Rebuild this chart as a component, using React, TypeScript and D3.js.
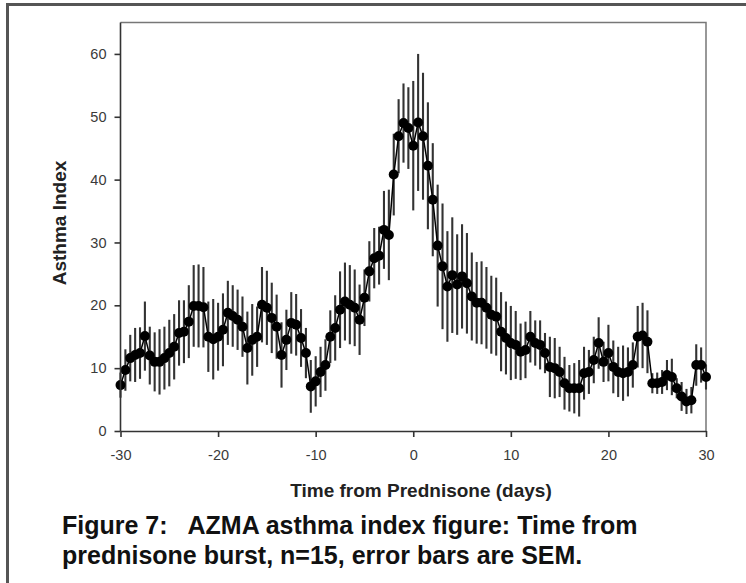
import React, { useEffect, useRef } from "react";
import * as d3 from "d3";

const days = [
  -30, -29.5, -29, -28.5, -28, -27.5, -27, -26.5, -26, -25.5,
  -25, -24.5, -24, -23.5, -23, -22.5, -22, -21.5, -21, -20.5,
  -20, -19.5, -19, -18.5, -18, -17.5, -17, -16.5, -16, -15.5,
  -15, -14.5, -14, -13.5, -13, -12.5, -12, -11.5, -11, -10.5,
  -10, -9.5, -9, -8.5, -8, -7.5, -7, -6.5, -6, -5.5,
  -5, -4.5, -4, -3.5, -3, -2.5, -2, -1.5, -1, -0.5,
  0, 0.5, 1, 1.5, 2, 2.5, 3, 3.5, 4, 4.5,
  5, 5.5, 6, 6.5, 7, 7.5, 8, 8.5, 9, 9.5,
  10, 10.5, 11, 11.5, 12, 12.5, 13, 13.5, 14, 14.5,
  15, 15.5, 16, 16.5, 17, 17.5, 18, 18.5, 19, 19.5,
  20, 20.5, 21, 21.5, 22, 22.5, 23, 23.5, 24, 24.5,
  25, 25.5, 26, 26.5, 27, 27.5, 28, 28.5, 29, 29.5,
  30,
];

const asthmaIndex = [
  7.3, 9.7, 11.6, 12.1, 12.4, 15.1, 12.0, 11.0, 11.0, 11.6,
  12.4, 13.4, 15.6, 15.8, 17.4, 19.9, 19.9, 19.7, 15.0, 14.6,
  15.0, 16.1, 18.8, 18.3, 17.7, 16.6, 13.2, 14.5, 15.0, 20.1,
  19.6, 18.0, 16.6, 12.1, 14.5, 17.2, 16.9, 14.8, 12.4, 7.1,
  7.9, 9.4, 10.5, 15.0, 16.4, 19.3, 20.6, 20.1, 19.6, 17.7,
  21.2, 25.4, 27.5, 27.9, 32.0, 31.2, 40.8, 46.9, 49.0, 48.2,
  45.4, 49.1, 46.9, 42.2, 36.8, 29.5, 26.2, 23.0, 24.8, 23.3,
  24.6, 23.5, 21.4, 20.4, 20.4, 19.6, 18.5, 18.2, 15.8, 14.8,
  14.0, 13.7, 12.6, 12.9, 15.0, 14.0, 13.7, 12.4, 10.2, 10.0,
  9.4, 7.6, 6.8, 6.8, 6.8, 9.2, 9.4, 11.3, 14.0, 11.0,
  12.4, 10.2, 9.4, 9.2, 9.4, 10.5, 15.0, 15.2, 14.2, 7.6,
  7.6, 7.8, 8.9, 8.6, 6.8, 5.5, 4.7, 4.9, 10.5, 10.5,
  8.6,
];

const sem = [
  2.0, 3.3, 3.7, 4.3, 4.1, 5.5, 4.6, 4.7, 5.2, 5.0,
  5.3, 5.2, 5.2, 5.0, 5.8, 6.5, 6.6, 6.4, 5.6, 6.4,
  5.4, 5.8, 5.1, 4.9, 4.8, 4.8, 5.8, 5.7, 4.8, 6.0,
  5.9, 5.6, 5.1, 5.2, 4.8, 4.9, 4.9, 4.6, 4.0, 4.2,
  4.0, 4.0, 4.1, 4.2, 5.2, 6.1, 6.2, 6.3, 6.1, 5.6,
  4.5, 4.8, 4.8, 4.6, 6.2, 7.2, 6.5, 5.9, 6.3, 6.5,
  10.3, 10.9, 10.1, 10.1, 9.0, 9.7, 10.0, 8.8, 9.2, 8.0,
  8.3, 8.0, 7.0, 6.5, 6.6, 6.5, 6.2, 6.2, 6.3, 5.8,
  5.9, 5.4, 4.5, 4.5, 4.1, 3.6, 3.9, 3.2, 4.8, 4.8,
  4.0, 4.2, 3.7, 4.0, 4.5, 4.2, 3.5, 3.7, 4.1, 3.2,
  4.5, 4.2, 4.0, 4.4, 3.9, 3.6, 4.9, 5.2, 5.0, 1.6,
  1.7, 1.9, 2.4, 2.9, 1.6, 2.3, 2.0, 2.1, 3.3, 2.8,
  2.0,
];

const xTicks = [-30, -20, -10, 0, 10, 20, 30];
const yTicks = [0, 10, 20, 30, 40, 50, 60];

const xTitle = "Time from Prednisone (days)";
const yTitle = "Asthma Index";
const captionLines = [
  "Figure 7:   AZMA asthma index figure: Time from",
  "prednisone burst, n=15, error bars are SEM.",
];

const FONT = "'Liberation Sans', Arial, Helvetica, sans-serif";

export default function App() {
  const ref = useRef<SVGSVGElement>(null);

  useEffect(() => {
    const svg = d3.select(ref.current);
    svg.selectAll("*").remove();

    const W = 746;
    const H = 583;
    svg.append("rect").attr("width", W).attr("height", H).attr("fill", "#fff");

    // outer figure border (top + left)
    svg.append("rect").attr("x", 6).attr("y", 3).attr("width", W - 6).attr("height", 3).attr("fill", "#555");
    svg.append("rect").attr("x", 6).attr("y", 3).attr("width", 3).attr("height", H - 3).attr("fill", "#555");

    const x = d3.scaleLinear().domain([-30, 30]).range([120.5, 706]);
    const y = d3.scaleLinear().domain([0, 65]).range([431, 22.5]);

    // top/right frame
    svg.append("path")
      .attr("d", `M${x(-30)},${y(65)}H${x(30)}V${y(0)}`)
      .attr("fill", "none")
      .attr("stroke", "#777")
      .attr("stroke-width", 1.5);

    const pts = days.map((d, i) => ({ d, v: asthmaIndex[i], e: sem[i] }));

    // error bars
    svg.append("g")
      .selectAll("line")
      .data(pts)
      .join("line")
      .attr("x1", (p) => x(p.d))
      .attr("x2", (p) => x(p.d))
      .attr("y1", (p) => y(p.v - p.e))
      .attr("y2", (p) => y(p.v + p.e))
      .attr("stroke", "#333")
      .attr("stroke-width", 2.1);

    // connecting line
    const line = d3.line<{ d: number; v: number }>()
      .x((p) => x(p.d))
      .y((p) => y(p.v));
    svg.append("path")
      .datum(pts)
      .attr("d", line)
      .attr("fill", "none")
      .attr("stroke", "#000")
      .attr("stroke-width", 1.5);

    // markers
    svg.append("g")
      .selectAll("circle")
      .data(pts)
      .join("circle")
      .attr("cx", (p) => x(p.d))
      .attr("cy", (p) => y(p.v))
      .attr("r", 5)
      .attr("fill", "#000");

    // axes
    const styleAxis = (g: any) => {
      g.select(".domain").attr("stroke", "#333").attr("stroke-width", 1.6);
      g.selectAll(".tick line").attr("stroke", "#333").attr("stroke-width", 1.6);
      g.selectAll(".tick text")
        .attr("fill", "#3a3a3a")
        .style("font-family", FONT)
        .style("font-size", "14.5px");
    };

    const gx = svg.append("g")
      .attr("transform", `translate(0,${y(0)})`)
      .call(
        d3.axisBottom(x)
          .tickValues(xTicks)
          .tickSize(6)
          .tickSizeOuter(0)
          .tickPadding(13)
          .tickFormat((d: any) => String(d))
      );
    styleAxis(gx);

    const gy = svg.append("g")
      .attr("transform", `translate(${x(-30)},0)`)
      .call(
        d3.axisLeft(y)
          .tickValues(yTicks)
          .tickSize(6)
          .tickSizeOuter(0)
          .tickPadding(8)
          .tickFormat((d: any) => String(d))
      );
    gy.select(".domain").attr("d", `M0,${y(0)}V${y(65)}`);
    styleAxis(gy);

    // axis titles
    svg.append("text")
      .attr("x", 421)
      .attr("y", 497)
      .attr("text-anchor", "middle")
      .attr("fill", "#222")
      .style("font-family", FONT)
      .style("font-weight", "bold")
      .style("font-size", "19px")
      .text(xTitle);

    svg.append("text")
      .attr("transform", `translate(66,223) rotate(-90)`)
      .attr("text-anchor", "middle")
      .attr("fill", "#222")
      .style("font-family", FONT)
      .style("font-weight", "bold")
      .style("font-size", "19px")
      .text(yTitle);

    // caption
    svg.append("g")
      .selectAll("text")
      .data(captionLines)
      .join("text")
      .attr("x", 62)
      .attr("y", (_d, i) => 534 + i * 30)
      .attr("fill", "#111")
      .style("font-family", FONT)
      .style("font-weight", "bold")
      .style("font-size", "25px")
      .style("white-space", "pre")
      .text((d) => d);
  }, []);

  return (
    <svg
      ref={ref}
      width={746}
      height={583}
      style={{ position: "absolute", left: 0, top: 0, display: "block" }}
    />
  );
}
